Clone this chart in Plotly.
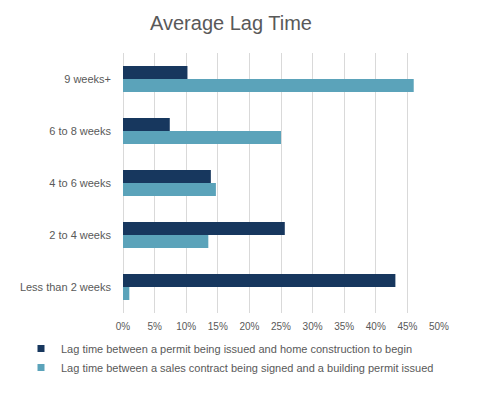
import plotly.graph_objects as go

categories = ["Less than 2 weeks", "2 to 4 weeks", "4 to 6 weeks", "6 to 8 weeks", "9 weeks+"]
permit_to_construction = [0.431, 0.256, 0.139, 0.074, 0.102]
contract_to_permit = [0.010, 0.135, 0.147, 0.250, 0.460]
x_ticks = [0, 0.05, 0.10, 0.15, 0.20, 0.25, 0.30, 0.35, 0.40, 0.45, 0.50]

name_dark = "Lag time between a permit being issued and home construction to begin"
name_light = "Lag time between a sales contract being signed and a building permit issued"
dark = "#17375E"
light = "#5BA3BA"

fig = go.Figure()
fig.add_trace(go.Bar(y=categories, x=contract_to_permit, orientation="h",
                     name=name_light, marker=dict(color=light, line=dict(width=0)),
                     showlegend=False))
fig.add_trace(go.Bar(y=categories, x=permit_to_construction, orientation="h",
                     name=name_dark, marker=dict(color=dark, line=dict(width=0)),
                     showlegend=False))
# legend entries with small square markers
fig.add_trace(go.Scatter(x=[None], y=[None], mode="markers", name=name_dark,
                         marker=dict(symbol="square", size=7, color=dark)))
fig.add_trace(go.Scatter(x=[None], y=[None], mode="markers", name=name_light,
                         marker=dict(symbol="square", size=7, color=light)))

font_fam = "Liberation Sans, Arial, sans-serif"
fig.update_layout(
    width=483, height=394,
    margin=dict(l=123, r=44, t=53, b=81, autoexpand=False),
    paper_bgcolor="white", plot_bgcolor="white",
    barmode="group", bargap=0.5, bargroupgap=0,
    title=dict(text="Average Lag Time", x=231/483, xref="container", xanchor="center",
               y=1 - 23/394, yref="container", yanchor="middle",
               font=dict(family=font_fam, size=20, color="#595959")),
    font=dict(family=font_fam, size=10, color="#595959"),
    legend=dict(x=(21 - 123) / 316, y=-(334 - 313) / 260, xanchor="left", yanchor="top",
                font=dict(size=11, color="#595959"), itemwidth=30, tracegroupgap=0,
                bgcolor="rgba(0,0,0,0)"),
    showlegend=True,
)
fig.update_xaxes(range=[0, 0.5], tickvals=x_ticks, tickformat=".0%",
                 showgrid=True, gridcolor="#D9D9D9", gridwidth=1,
                 zeroline=True, zerolinecolor="#D9D9D9", zerolinewidth=1,
                 showline=False, ticks="", ticklabelstandoff=6,
                 tickfont=dict(size=10, color="#595959"))
fig.update_yaxes(categoryorder="array", categoryarray=categories,
                 showgrid=False, showline=False, ticks="", ticklabelstandoff=11,
                 tickfont=dict(size=11, color="#595959"))

fig.write_html("out.html", config={"displayModeBar": False},
               post_script="document.body.style.margin='0';")
